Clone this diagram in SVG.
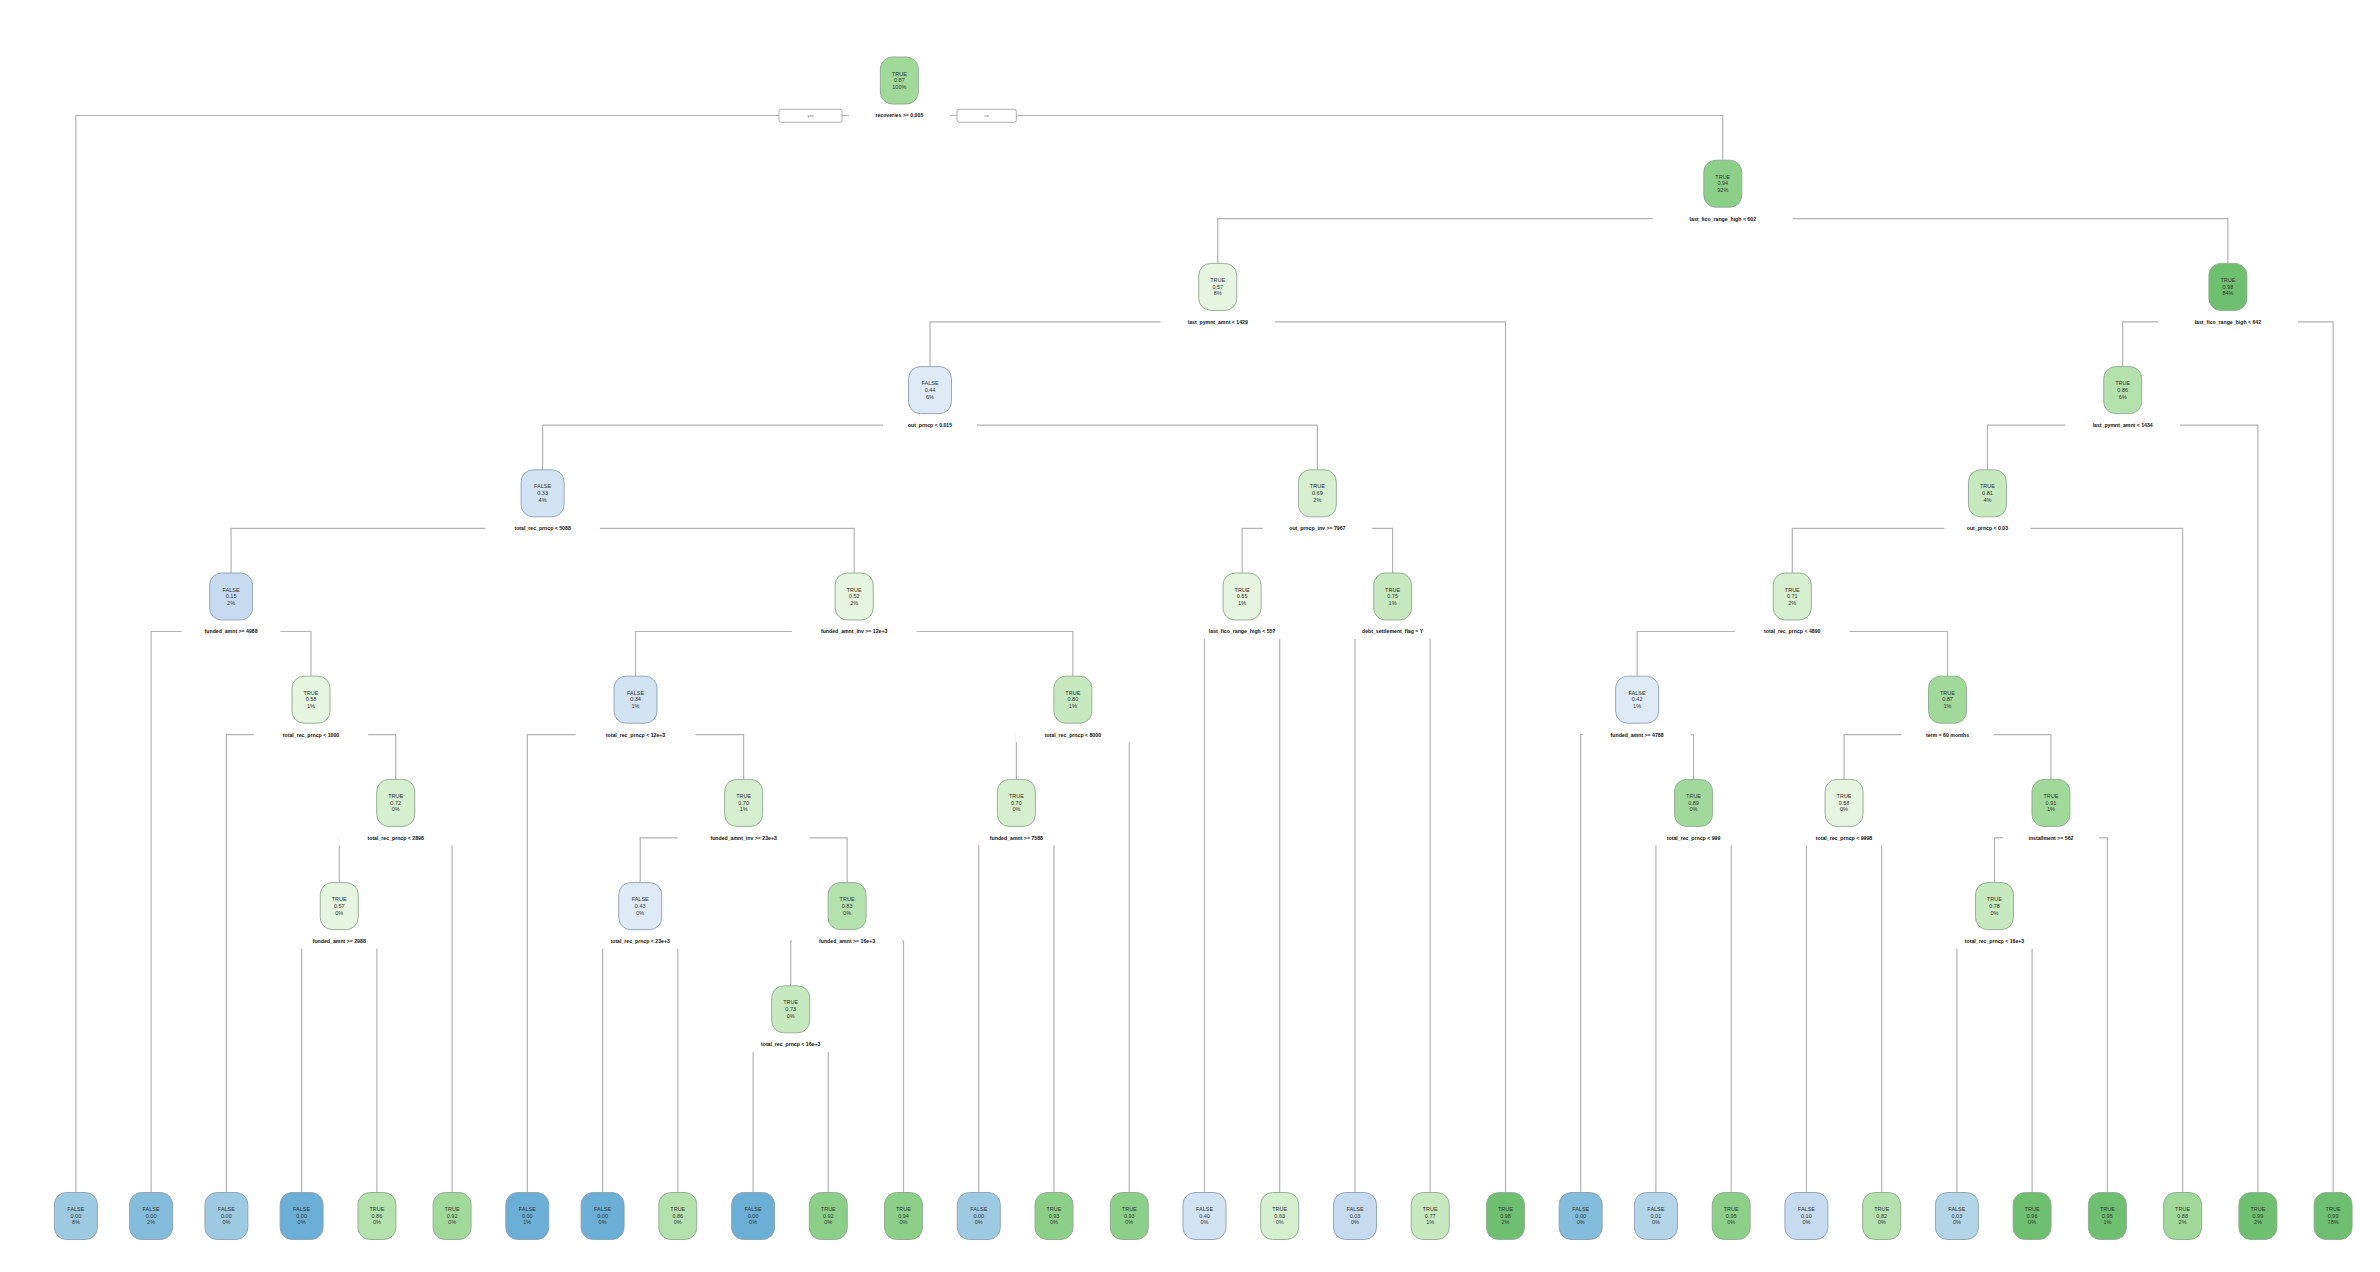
<svg xmlns="http://www.w3.org/2000/svg" width="2380" height="1272" viewBox="0 0 2380 1272">
<style>
.bgc{fill:#ffffff}
.c path{fill:none;stroke:#b3b3b3;stroke-width:1.2}
.ng,.nb{stroke-width:0.9}
.ng{stroke:#8fa88f}
.nb{stroke:#8c9fb4}
.b1{fill:#6BAED6}.b2{fill:#84BCDB}.b3{fill:#9ECAE1}.b4{fill:#B4D4E8}.b5{fill:#C6DBEF}.b6{fill:#D2E3F3}.b7{fill:#DEEBF7}
.g1{fill:#6EBF70}.g2{fill:#8BCF89}.g3{fill:#A1D99B}.g4{fill:#B5E1AE}.g5{fill:#C7E9C0}.g6{fill:#D5EFCF}.g7{fill:#E5F5E0}
.t{font-family:"Liberation Sans",Arial,sans-serif;font-size:5.5px;fill:#333;text-anchor:middle}
.lb{font-family:"Liberation Sans",Arial,sans-serif;font-size:5.2px;font-weight:bold;fill:#111;text-anchor:middle}
.lbg{fill:#ffffff}
.yn{fill:#ffffff;stroke:#a0a0a0;stroke-width:0.8}
.ynt{font-family:"Liberation Sans",Arial,sans-serif;font-size:4px;fill:#777;text-anchor:middle}
</style>
<rect class="bgc" x="0" y="0" width="2380" height="1272"/>
<g id="connectors" class="c">
<path d="M899.35 115.5H75.9V1192.5"/>
<path d="M899.35 115.5H1722.8V160.2"/>
<path d="M1722.8 218.7H1217.75V263.4"/>
<path d="M1722.8 218.7H2227.9V263.4"/>
<path d="M1217.75 321.9H930V366.6"/>
<path d="M1217.75 321.9H1505.5V1192.5"/>
<path d="M2227.9 321.9H2122.7V366.6"/>
<path d="M2227.9 321.9H2333.1V1192.5"/>
<path d="M930 425.1H542.6V469.8"/>
<path d="M930 425.1H1317.35V469.8"/>
<path d="M2122.7 425.1H1987.45V469.8"/>
<path d="M2122.7 425.1H2257.9V1192.5"/>
<path d="M542.6 528.3H231.1V573"/>
<path d="M542.6 528.3H854.2V573"/>
<path d="M1317.35 528.3H1242.1V573"/>
<path d="M1317.35 528.3H1392.6V573"/>
<path d="M1987.45 528.3H1792.3V573"/>
<path d="M1987.45 528.3H2182.6V1192.5"/>
<path d="M231.1 631.5H151.1V1192.5"/>
<path d="M231.1 631.5H311V676.2"/>
<path d="M854.2 631.5H635.5V676.2"/>
<path d="M854.2 631.5H1072.85V676.2"/>
<path d="M1242.1 631.5H1204.5V1192.5"/>
<path d="M1242.1 631.5H1279.7V1192.5"/>
<path d="M1392.6 631.5H1355V1192.5"/>
<path d="M1392.6 631.5H1430.2V1192.5"/>
<path d="M1792.3 631.5H1637.1V676.2"/>
<path d="M1792.3 631.5H1947.5V676.2"/>
<path d="M311 734.7H226.4V1192.5"/>
<path d="M311 734.7H395.7V779.4"/>
<path d="M635.5 734.7H527.3V1192.5"/>
<path d="M635.5 734.7H743.65V779.4"/>
<path d="M1072.85 734.7H1016.4V779.4"/>
<path d="M1072.85 734.7H1129.3V1192.5"/>
<path d="M1637.1 734.7H1580.7V1192.5"/>
<path d="M1637.1 734.7H1693.55V779.4"/>
<path d="M1947.5 734.7H1844.05V779.4"/>
<path d="M1947.5 734.7H2050.95V779.4"/>
<path d="M395.7 837.9H339.25V882.6"/>
<path d="M395.7 837.9H452.1V1192.5"/>
<path d="M743.65 837.9H640.2V882.6"/>
<path d="M743.65 837.9H847.1V882.6"/>
<path d="M1016.4 837.9H978.8V1192.5"/>
<path d="M1016.4 837.9H1054V1192.5"/>
<path d="M1693.55 837.9H1655.9V1192.5"/>
<path d="M1693.55 837.9H1731.2V1192.5"/>
<path d="M1844.05 837.9H1806.4V1192.5"/>
<path d="M1844.05 837.9H1881.7V1192.5"/>
<path d="M2050.95 837.9H1994.5V882.6"/>
<path d="M2050.95 837.9H2107.4V1192.5"/>
<path d="M339.25 941.1H301.6V1192.5"/>
<path d="M339.25 941.1H376.9V1192.5"/>
<path d="M640.2 941.1H602.6V1192.5"/>
<path d="M640.2 941.1H677.8V1192.5"/>
<path d="M847.1 941.1H790.7V985.8"/>
<path d="M847.1 941.1H903.5V1192.5"/>
<path d="M1994.5 941.1H1956.9V1192.5"/>
<path d="M1994.5 941.1H2032.1V1192.5"/>
<path d="M790.7 1044.3H753.1V1192.5"/>
<path d="M790.7 1044.3H828.3V1192.5"/>
</g>
<g id="yes-no">
<rect class="yn" x="779" y="109.3" width="63" height="13" rx="2"/>
<text class="ynt" x="810.5" y="117.3">yes</text>
<rect class="yn" x="957" y="109.3" width="59.3" height="13" rx="2"/>
<text class="ynt" x="986.6" y="117.3">no</text>
</g>
<g id="node-root"><rect class="ng g3" x="880.35" y="57" width="38" height="47" rx="12"/><text class="t" x="899.35" y="75.5">TRUE<tspan x="899.35" dy="6.7">0.87</tspan><tspan x="899.35" dy="6.7">100%</tspan></text><rect class="lbg" x="848.85" y="108" width="101" height="15"/><text class="lb" x="899.35" y="117.4">recoveries &gt;= 0.005</text></g>
<g id="node-A"><rect class="ng g2" x="1703.8" y="160.2" width="38" height="47" rx="12"/><text class="t" x="1722.8" y="178.7">TRUE<tspan x="1722.8" dy="6.7">0.94</tspan><tspan x="1722.8" dy="6.7">92%</tspan></text><rect class="lbg" x="1652.8" y="211.2" width="140" height="15"/><text class="lb" x="1722.8" y="220.6">last_fico_range_high &lt; 602</text></g>
<g id="node-B"><rect class="ng g7" x="1198.75" y="263.4" width="38" height="47" rx="12"/><text class="t" x="1217.75" y="281.9">TRUE<tspan x="1217.75" dy="6.7">0.57</tspan><tspan x="1217.75" dy="6.7">8%</tspan></text><rect class="lbg" x="1160.55" y="314.4" width="114.4" height="15"/><text class="lb" x="1217.75" y="323.8">last_pymnt_amnt &lt; 1429</text></g>
<g id="node-T"><rect class="ng g1" x="2208.9" y="263.4" width="38" height="47" rx="12"/><text class="t" x="2227.9" y="281.9">TRUE<tspan x="2227.9" dy="6.7">0.98</tspan><tspan x="2227.9" dy="6.7">84%</tspan></text><rect class="lbg" x="2157.9" y="314.4" width="140" height="15"/><text class="lb" x="2227.9" y="323.8">last_fico_range_high &lt; 642</text></g>
<g id="node-C"><rect class="nb b7" x="908.5" y="366.6" width="43" height="47" rx="12"/><text class="t" x="930" y="385.1">FALSE<tspan x="930" dy="6.7">0.44</tspan><tspan x="930" dy="6.7">6%</tspan></text><rect class="lbg" x="883" y="417.6" width="94" height="15"/><text class="lb" x="930" y="427">out_prncp &lt; 0.015</text></g>
<g id="node-U"><rect class="ng g4" x="2103.7" y="366.6" width="38" height="47" rx="12"/><text class="t" x="2122.7" y="385.1">TRUE<tspan x="2122.7" dy="6.7">0.86</tspan><tspan x="2122.7" dy="6.7">6%</tspan></text><rect class="lbg" x="2065.5" y="417.6" width="114.4" height="15"/><text class="lb" x="2122.7" y="427">last_pymnt_amnt &lt; 1434</text></g>
<g id="node-D"><rect class="nb b6" x="521.1" y="469.8" width="43" height="47" rx="12"/><text class="t" x="542.6" y="488.3">FALSE<tspan x="542.6" dy="6.7">0.33</tspan><tspan x="542.6" dy="6.7">4%</tspan></text><rect class="lbg" x="485.4" y="520.8" width="114.4" height="15"/><text class="lb" x="542.6" y="530.2">total_rec_prncp &lt; 5088</text></g>
<g id="node-Q"><rect class="ng g6" x="1298.35" y="469.8" width="38" height="47" rx="12"/><text class="t" x="1317.35" y="488.3">TRUE<tspan x="1317.35" dy="6.7">0.69</tspan><tspan x="1317.35" dy="6.7">2%</tspan></text><rect class="lbg" x="1262.75" y="520.8" width="109.2" height="15"/><text class="lb" x="1317.35" y="530.2">out_prncp_inv &gt;= 7967</text></g>
<g id="node-V"><rect class="ng g5" x="1968.45" y="469.8" width="38" height="47" rx="12"/><text class="t" x="1987.45" y="488.3">TRUE<tspan x="1987.45" dy="6.7">0.81</tspan><tspan x="1987.45" dy="6.7">4%</tspan></text><rect class="lbg" x="1944.45" y="520.8" width="86" height="15"/><text class="lb" x="1987.45" y="530.2">out_prncp &lt; 0.03</text></g>
<g id="node-E"><rect class="nb b5" x="209.6" y="573" width="43" height="47" rx="12"/><text class="t" x="231.1" y="591.5">FALSE<tspan x="231.1" dy="6.7">0.15</tspan><tspan x="231.1" dy="6.7">2%</tspan></text><rect class="lbg" x="181.7" y="624" width="98.8" height="15"/><text class="lb" x="231.1" y="633.4">funded_amnt &gt;= 4988</text></g>
<g id="node-I"><rect class="ng g7" x="835.2" y="573" width="38" height="47" rx="12"/><text class="t" x="854.2" y="591.5">TRUE<tspan x="854.2" dy="6.7">0.52</tspan><tspan x="854.2" dy="6.7">2%</tspan></text><rect class="lbg" x="791.8" y="624" width="124.8" height="15"/><text class="lb" x="854.2" y="633.4">funded_amnt_inv &gt;= 12e+3</text></g>
<g id="node-R"><rect class="ng g7" x="1223.1" y="573" width="38" height="47" rx="12"/><text class="t" x="1242.1" y="591.5">TRUE<tspan x="1242.1" dy="6.7">0.55</tspan><tspan x="1242.1" dy="6.7">1%</tspan></text><rect class="lbg" x="1171.9" y="624" width="140.4" height="15"/><text class="lb" x="1242.1" y="633.4">last_fico_range_high &lt; 557</text></g>
<g id="node-S"><rect class="ng g5" x="1373.6" y="573" width="38" height="47" rx="12"/><text class="t" x="1392.6" y="591.5">TRUE<tspan x="1392.6" dy="6.7">0.75</tspan><tspan x="1392.6" dy="6.7">1%</tspan></text><rect class="lbg" x="1330.2" y="624" width="124.8" height="15"/><text class="lb" x="1392.6" y="633.4">debt_settlement_flag = Y</text></g>
<g id="node-W"><rect class="ng g6" x="1773.3" y="573" width="38" height="47" rx="12"/><text class="t" x="1792.3" y="591.5">TRUE<tspan x="1792.3" dy="6.7">0.71</tspan><tspan x="1792.3" dy="6.7">2%</tspan></text><rect class="lbg" x="1735.1" y="624" width="114.4" height="15"/><text class="lb" x="1792.3" y="633.4">total_rec_prncp &lt; 4890</text></g>
<g id="node-F"><rect class="ng g7" x="292" y="676.2" width="38" height="47" rx="12"/><text class="t" x="311" y="694.7">TRUE<tspan x="311" dy="6.7">0.58</tspan><tspan x="311" dy="6.7">1%</tspan></text><rect class="lbg" x="253.8" y="727.2" width="114.4" height="15"/><text class="lb" x="311" y="736.6">total_rec_prncp &lt; 1000</text></g>
<g id="node-J"><rect class="nb b6" x="614" y="676.2" width="43" height="47" rx="12"/><text class="t" x="635.5" y="694.7">FALSE<tspan x="635.5" dy="6.7">0.34</tspan><tspan x="635.5" dy="6.7">1%</tspan></text><rect class="lbg" x="575.7" y="727.2" width="119.6" height="15"/><text class="lb" x="635.5" y="736.6">total_rec_prncp &lt; 12e+3</text></g>
<g id="node-O"><rect class="ng g5" x="1053.85" y="676.2" width="38" height="47" rx="12"/><text class="t" x="1072.85" y="694.7">TRUE<tspan x="1072.85" dy="6.7">0.80</tspan><tspan x="1072.85" dy="6.7">1%</tspan></text><rect class="lbg" x="1015.65" y="727.2" width="114.4" height="15"/><text class="lb" x="1072.85" y="736.6">total_rec_prncp &lt; 8000</text></g>
<g id="node-X"><rect class="nb b7" x="1615.6" y="676.2" width="43" height="47" rx="12"/><text class="t" x="1637.1" y="694.7">FALSE<tspan x="1637.1" dy="6.7">0.42</tspan><tspan x="1637.1" dy="6.7">1%</tspan></text><rect class="lbg" x="1583.1" y="727.2" width="108" height="15"/><text class="lb" x="1637.1" y="736.6">funded_amnt &gt;= 4788</text></g>
<g id="node-Z"><rect class="ng g3" x="1928.5" y="676.2" width="38" height="47" rx="12"/><text class="t" x="1947.5" y="694.7">TRUE<tspan x="1947.5" dy="6.7">0.87</tspan><tspan x="1947.5" dy="6.7">1%</tspan></text><rect class="lbg" x="1901.5" y="727.2" width="92" height="15"/><text class="lb" x="1947.5" y="736.6">term = 60 months</text></g>
<g id="node-G"><rect class="ng g6" x="376.7" y="779.4" width="38" height="47" rx="12"/><text class="t" x="395.7" y="797.9">TRUE<tspan x="395.7" dy="6.7">0.72</tspan><tspan x="395.7" dy="6.7">0%</tspan></text><rect class="lbg" x="338.5" y="830.4" width="114.4" height="15"/><text class="lb" x="395.7" y="839.8">total_rec_prncp &lt; 2898</text></g>
<g id="node-K"><rect class="ng g6" x="724.65" y="779.4" width="38" height="47" rx="12"/><text class="t" x="743.65" y="797.9">TRUE<tspan x="743.65" dy="6.7">0.70</tspan><tspan x="743.65" dy="6.7">1%</tspan></text><rect class="lbg" x="677.65" y="830.4" width="132" height="15"/><text class="lb" x="743.65" y="839.8">funded_amnt_inv &gt;= 23e+3</text></g>
<g id="node-P"><rect class="ng g6" x="997.4" y="779.4" width="38" height="47" rx="12"/><text class="t" x="1016.4" y="797.9">TRUE<tspan x="1016.4" dy="6.7">0.70</tspan><tspan x="1016.4" dy="6.7">0%</tspan></text><rect class="lbg" x="964.4" y="830.4" width="104" height="15"/><text class="lb" x="1016.4" y="839.8">funded_amnt &gt;= 7588</text></g>
<g id="node-Y"><rect class="ng g3" x="1674.55" y="779.4" width="38" height="47" rx="12"/><text class="t" x="1693.55" y="797.9">TRUE<tspan x="1693.55" dy="6.7">0.89</tspan><tspan x="1693.55" dy="6.7">0%</tspan></text><rect class="lbg" x="1638.95" y="830.4" width="109.2" height="15"/><text class="lb" x="1693.55" y="839.8">total_rec_prncp &lt; 999</text></g>
<g id="node-AA"><rect class="ng g7" x="1825.05" y="779.4" width="38" height="47" rx="12"/><text class="t" x="1844.05" y="797.9">TRUE<tspan x="1844.05" dy="6.7">0.58</tspan><tspan x="1844.05" dy="6.7">0%</tspan></text><rect class="lbg" x="1786.85" y="830.4" width="114.4" height="15"/><text class="lb" x="1844.05" y="839.8">total_rec_prncp &lt; 9998</text></g>
<g id="node-AB"><rect class="ng g3" x="2031.95" y="779.4" width="38" height="47" rx="12"/><text class="t" x="2050.95" y="797.9">TRUE<tspan x="2050.95" dy="6.7">0.91</tspan><tspan x="2050.95" dy="6.7">1%</tspan></text><rect class="lbg" x="2002.95" y="830.4" width="96" height="15"/><text class="lb" x="2050.95" y="839.8">installment &gt;= 562</text></g>
<g id="node-H"><rect class="ng g7" x="320.25" y="882.6" width="38" height="47" rx="12"/><text class="t" x="339.25" y="901.1">TRUE<tspan x="339.25" dy="6.7">0.57</tspan><tspan x="339.25" dy="6.7">0%</tspan></text><rect class="lbg" x="289.85" y="933.6" width="98.8" height="15"/><text class="lb" x="339.25" y="943">funded_amnt &gt;= 2988</text></g>
<g id="node-L"><rect class="nb b7" x="618.7" y="882.6" width="43" height="47" rx="12"/><text class="t" x="640.2" y="901.1">FALSE<tspan x="640.2" dy="6.7">0.43</tspan><tspan x="640.2" dy="6.7">0%</tspan></text><rect class="lbg" x="580.4" y="933.6" width="119.6" height="15"/><text class="lb" x="640.2" y="943">total_rec_prncp &lt; 23e+3</text></g>
<g id="node-M"><rect class="ng g4" x="828.1" y="882.6" width="38" height="47" rx="12"/><text class="t" x="847.1" y="901.1">TRUE<tspan x="847.1" dy="6.7">0.83</tspan><tspan x="847.1" dy="6.7">0%</tspan></text><rect class="lbg" x="792.1" y="933.6" width="110" height="15"/><text class="lb" x="847.1" y="943">funded_amnt &gt;= 16e+3</text></g>
<g id="node-AC"><rect class="ng g5" x="1975.5" y="882.6" width="38" height="47" rx="12"/><text class="t" x="1994.5" y="901.1">TRUE<tspan x="1994.5" dy="6.7">0.78</tspan><tspan x="1994.5" dy="6.7">0%</tspan></text><rect class="lbg" x="1934.7" y="933.6" width="119.6" height="15"/><text class="lb" x="1994.5" y="943">total_rec_prncp &lt; 16e+3</text></g>
<g id="node-N"><rect class="ng g5" x="771.7" y="985.8" width="38" height="47" rx="12"/><text class="t" x="790.7" y="1004.3">TRUE<tspan x="790.7" dy="6.7">0.73</tspan><tspan x="790.7" dy="6.7">0%</tspan></text><rect class="lbg" x="730.9" y="1036.8" width="119.6" height="15"/><text class="lb" x="790.7" y="1046.2">total_rec_prncp &lt; 16e+3</text></g>
<g id="leaf-0"><rect class="nb b3" x="54.4" y="1192.5" width="43" height="47" rx="12"/><text class="t" x="75.9" y="1211">FALSE<tspan x="75.9" dy="6.7">0.00</tspan><tspan x="75.9" dy="6.7">8%</tspan></text></g>
<g id="leaf-1"><rect class="nb b2" x="129.6" y="1192.5" width="43" height="47" rx="12"/><text class="t" x="151.1" y="1211">FALSE<tspan x="151.1" dy="6.7">0.00</tspan><tspan x="151.1" dy="6.7">2%</tspan></text></g>
<g id="leaf-2"><rect class="nb b3" x="204.9" y="1192.5" width="43" height="47" rx="12"/><text class="t" x="226.4" y="1211">FALSE<tspan x="226.4" dy="6.7">0.00</tspan><tspan x="226.4" dy="6.7">0%</tspan></text></g>
<g id="leaf-3"><rect class="nb b1" x="280.1" y="1192.5" width="43" height="47" rx="12"/><text class="t" x="301.6" y="1211">FALSE<tspan x="301.6" dy="6.7">0.00</tspan><tspan x="301.6" dy="6.7">0%</tspan></text></g>
<g id="leaf-4"><rect class="ng g4" x="357.9" y="1192.5" width="38" height="47" rx="12"/><text class="t" x="376.9" y="1211">TRUE<tspan x="376.9" dy="6.7">0.86</tspan><tspan x="376.9" dy="6.7">0%</tspan></text></g>
<g id="leaf-5"><rect class="ng g3" x="433.1" y="1192.5" width="38" height="47" rx="12"/><text class="t" x="452.1" y="1211">TRUE<tspan x="452.1" dy="6.7">0.92</tspan><tspan x="452.1" dy="6.7">0%</tspan></text></g>
<g id="leaf-6"><rect class="nb b1" x="505.8" y="1192.5" width="43" height="47" rx="12"/><text class="t" x="527.3" y="1211">FALSE<tspan x="527.3" dy="6.7">0.00</tspan><tspan x="527.3" dy="6.7">1%</tspan></text></g>
<g id="leaf-7"><rect class="nb b1" x="581.1" y="1192.5" width="43" height="47" rx="12"/><text class="t" x="602.6" y="1211">FALSE<tspan x="602.6" dy="6.7">0.00</tspan><tspan x="602.6" dy="6.7">0%</tspan></text></g>
<g id="leaf-8"><rect class="ng g4" x="658.8" y="1192.5" width="38" height="47" rx="12"/><text class="t" x="677.8" y="1211">TRUE<tspan x="677.8" dy="6.7">0.86</tspan><tspan x="677.8" dy="6.7">0%</tspan></text></g>
<g id="leaf-9"><rect class="nb b1" x="731.6" y="1192.5" width="43" height="47" rx="12"/><text class="t" x="753.1" y="1211">FALSE<tspan x="753.1" dy="6.7">0.00</tspan><tspan x="753.1" dy="6.7">0%</tspan></text></g>
<g id="leaf-10"><rect class="ng g2" x="809.3" y="1192.5" width="38" height="47" rx="12"/><text class="t" x="828.3" y="1211">TRUE<tspan x="828.3" dy="6.7">0.92</tspan><tspan x="828.3" dy="6.7">0%</tspan></text></g>
<g id="leaf-11"><rect class="ng g2" x="884.5" y="1192.5" width="38" height="47" rx="12"/><text class="t" x="903.5" y="1211">TRUE<tspan x="903.5" dy="6.7">0.94</tspan><tspan x="903.5" dy="6.7">0%</tspan></text></g>
<g id="leaf-12"><rect class="nb b3" x="957.3" y="1192.5" width="43" height="47" rx="12"/><text class="t" x="978.8" y="1211">FALSE<tspan x="978.8" dy="6.7">0.00</tspan><tspan x="978.8" dy="6.7">0%</tspan></text></g>
<g id="leaf-13"><rect class="ng g2" x="1035" y="1192.5" width="38" height="47" rx="12"/><text class="t" x="1054" y="1211">TRUE<tspan x="1054" dy="6.7">0.93</tspan><tspan x="1054" dy="6.7">0%</tspan></text></g>
<g id="leaf-14"><rect class="ng g2" x="1110.3" y="1192.5" width="38" height="47" rx="12"/><text class="t" x="1129.3" y="1211">TRUE<tspan x="1129.3" dy="6.7">0.93</tspan><tspan x="1129.3" dy="6.7">0%</tspan></text></g>
<g id="leaf-15"><rect class="nb b6" x="1183" y="1192.5" width="43" height="47" rx="12"/><text class="t" x="1204.5" y="1211">FALSE<tspan x="1204.5" dy="6.7">0.40</tspan><tspan x="1204.5" dy="6.7">0%</tspan></text></g>
<g id="leaf-16"><rect class="ng g6" x="1260.7" y="1192.5" width="38" height="47" rx="12"/><text class="t" x="1279.7" y="1211">TRUE<tspan x="1279.7" dy="6.7">0.63</tspan><tspan x="1279.7" dy="6.7">0%</tspan></text></g>
<g id="leaf-17"><rect class="nb b5" x="1333.5" y="1192.5" width="43" height="47" rx="12"/><text class="t" x="1355" y="1211">FALSE<tspan x="1355" dy="6.7">0.03</tspan><tspan x="1355" dy="6.7">0%</tspan></text></g>
<g id="leaf-18"><rect class="ng g5" x="1411.2" y="1192.5" width="38" height="47" rx="12"/><text class="t" x="1430.2" y="1211">TRUE<tspan x="1430.2" dy="6.7">0.77</tspan><tspan x="1430.2" dy="6.7">1%</tspan></text></g>
<g id="leaf-19"><rect class="ng g1" x="1486.5" y="1192.5" width="38" height="47" rx="12"/><text class="t" x="1505.5" y="1211">TRUE<tspan x="1505.5" dy="6.7">0.98</tspan><tspan x="1505.5" dy="6.7">2%</tspan></text></g>
<g id="leaf-20"><rect class="nb b2" x="1559.2" y="1192.5" width="43" height="47" rx="12"/><text class="t" x="1580.7" y="1211">FALSE<tspan x="1580.7" dy="6.7">0.00</tspan><tspan x="1580.7" dy="6.7">0%</tspan></text></g>
<g id="leaf-21"><rect class="nb b4" x="1634.4" y="1192.5" width="43" height="47" rx="12"/><text class="t" x="1655.9" y="1211">FALSE<tspan x="1655.9" dy="6.7">0.01</tspan><tspan x="1655.9" dy="6.7">0%</tspan></text></g>
<g id="leaf-22"><rect class="ng g2" x="1712.2" y="1192.5" width="38" height="47" rx="12"/><text class="t" x="1731.2" y="1211">TRUE<tspan x="1731.2" dy="6.7">0.95</tspan><tspan x="1731.2" dy="6.7">0%</tspan></text></g>
<g id="leaf-23"><rect class="nb b5" x="1784.9" y="1192.5" width="43" height="47" rx="12"/><text class="t" x="1806.4" y="1211">FALSE<tspan x="1806.4" dy="6.7">0.10</tspan><tspan x="1806.4" dy="6.7">0%</tspan></text></g>
<g id="leaf-24"><rect class="ng g4" x="1862.7" y="1192.5" width="38" height="47" rx="12"/><text class="t" x="1881.7" y="1211">TRUE<tspan x="1881.7" dy="6.7">0.82</tspan><tspan x="1881.7" dy="6.7">0%</tspan></text></g>
<g id="leaf-25"><rect class="nb b4" x="1935.4" y="1192.5" width="43" height="47" rx="12"/><text class="t" x="1956.9" y="1211">FALSE<tspan x="1956.9" dy="6.7">0.03</tspan><tspan x="1956.9" dy="6.7">0%</tspan></text></g>
<g id="leaf-26"><rect class="ng g1" x="2013.1" y="1192.5" width="38" height="47" rx="12"/><text class="t" x="2032.1" y="1211">TRUE<tspan x="2032.1" dy="6.7">0.96</tspan><tspan x="2032.1" dy="6.7">0%</tspan></text></g>
<g id="leaf-27"><rect class="ng g1" x="2088.4" y="1192.5" width="38" height="47" rx="12"/><text class="t" x="2107.4" y="1211">TRUE<tspan x="2107.4" dy="6.7">0.95</tspan><tspan x="2107.4" dy="6.7">1%</tspan></text></g>
<g id="leaf-28"><rect class="ng g3" x="2163.6" y="1192.5" width="38" height="47" rx="12"/><text class="t" x="2182.6" y="1211">TRUE<tspan x="2182.6" dy="6.7">0.88</tspan><tspan x="2182.6" dy="6.7">2%</tspan></text></g>
<g id="leaf-29"><rect class="ng g1" x="2238.9" y="1192.5" width="38" height="47" rx="12"/><text class="t" x="2257.9" y="1211">TRUE<tspan x="2257.9" dy="6.7">0.99</tspan><tspan x="2257.9" dy="6.7">2%</tspan></text></g>
<g id="leaf-30"><rect class="ng g1" x="2314.1" y="1192.5" width="38" height="47" rx="12"/><text class="t" x="2333.1" y="1211">TRUE<tspan x="2333.1" dy="6.7">0.99</tspan><tspan x="2333.1" dy="6.7">78%</tspan></text></g>
</svg>
